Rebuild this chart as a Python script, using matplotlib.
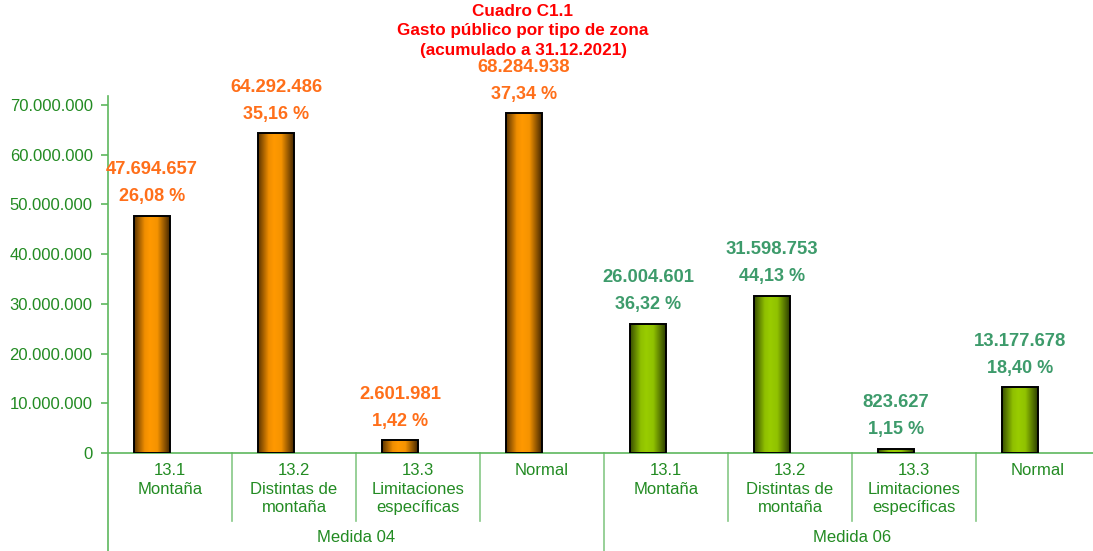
import matplotlib
matplotlib.use("Agg")
import matplotlib.pyplot as plt
import numpy as np
from matplotlib.colors import LinearSegmentedColormap

plt.rcParams['font.family'] = ['Liberation Sans', 'DejaVu Sans']

# ---- data ----
categories = ["13.1\nMontaña", "13.2\nDistintas de\nmontaña", "13.3\nLimitaciones\nespecíficas", "Normal",
              "13.1\nMontaña", "13.2\nDistintas de\nmontaña", "13.3\nLimitaciones\nespecíficas", "Normal"]
groups = ["Medida 04", "Medida 06"]
medida04_values = [47694657, 64292486, 2601981, 68284938]
medida04_pct = ["26,08 %", "35,16 %", "1,42 %", "37,34 %"]
medida06_values = [26004601, 31598753, 823627, 13177678]
medida06_pct = ["36,32 %", "44,13 %", "1,15 %", "18,40 %"]
yticks = [0, 10000000, 20000000, 30000000, 40000000, 50000000, 60000000, 70000000]
title = "Cuadro C1.1\nGasto público por tipo de zona\n(acumulado a 31.12.2021)"

# ---- layout ----
W, H = 1093, 551
fig = plt.figure(figsize=(W / 100, H / 100), dpi=100)
ax_left, ax_right, ax_top, ax_bottom = 108, 1100, 96, 453
ax = fig.add_axes([ax_left / W, (H - ax_bottom) / H, (ax_right - ax_left) / W, (ax_bottom - ax_top) / H])
axh = ax_bottom - ax_top

axis_green = '#5DB85D'
text_green = '#228B22'
sep_green = '#86C886'

def fmt(v):
    return f"{v:,}".replace(",", ".")

cmap_orange = LinearSegmentedColormap.from_list('o', [(0, '#5A3300'), (0.3, '#F08E00'), (0.45, '#FF9900'),
                                                      (0.65, '#F59300'), (1.0, '#452700')])
cmap_green = LinearSegmentedColormap.from_list('g', [(0, '#374C00'), (0.3, '#8FC000'), (0.45, '#99CC00'),
                                                     (0.65, '#90C200'), (1.0, '#2C3E00')])
grad = np.linspace(0, 1, 256).reshape(1, -1)

bw = 0.29
series = [(medida04_values, medida04_pct, cmap_orange, '#FF6F1A', 0),
          (medida06_values, medida06_pct, cmap_green, '#3D9B6B', 4)]
for vals, pcts, cmap, lc, off in series:
    xs = np.arange(len(vals)) + off + 0.5 - bw / 2
    bars = ax.bar(xs, vals, width=bw, facecolor='none', edgecolor='black', linewidth=1.4, zorder=3)
    for b, v, p in zip(bars, vals, pcts):
        x0, w, h = b.get_x(), b.get_width(), b.get_height()
        im = ax.imshow(grad, cmap=cmap, aspect='auto', extent=[x0, x0 + w, 0, h], zorder=2)
        im.set_clip_path(b)
        cx = x0 + w / 2
        ax.annotate(p, (cx, h), xytext=(0, 19 * 0.72), textcoords='offset points',
                    ha='center', va='center', fontsize=13, fontweight='bold', color=lc, zorder=4)
        ax.annotate(fmt(v), (cx, h), xytext=(0, 46 * 0.72), textcoords='offset points',
                    ha='center', va='center', fontsize=13.3, fontweight='bold', color=lc, zorder=4)
ax.set_xlim(0, 8)
ax.set_ylim(0, 71.8e6)

# axes styling
for s in ['top', 'right']:
    ax.spines[s].set_visible(False)
ax.spines['left'].set_color(axis_green)
ax.spines['bottom'].set_color(axis_green)
ax.spines['left'].set_linewidth(1.2)
ax.spines['bottom'].set_linewidth(1.2)
ax.set_yticks(yticks)
ax.set_yticklabels([fmt(t) for t in yticks], fontsize=12, color=text_green)
ax.tick_params(axis='y', colors=axis_green, labelcolor=text_green, length=5, width=1.2, pad=6)
ax.set_xticks([])

# category labels and separators
trans = ax.get_xaxis_transform()
for i, c in enumerate(categories):
    ax.text(i + 0.5, -10 / axh, c, transform=trans, ha='center', va='top', fontsize=12,
            color=text_green, linespacing=1.3)
for i in range(1, 8):
    ybot = -(551 - 453) / axh if i == 4 else -(521 - 453) / axh
    ax.plot([i, i], [0, ybot], transform=trans, color=sep_green, lw=1.2, clip_on=False)
ax.plot([0, 0], [0, -(551 - 453) / axh], transform=trans, color=axis_green, lw=1.2, clip_on=False)
for g, gname in enumerate(groups):
    ax.text(g * 4 + 2, -(538 - 453) / axh, gname, transform=trans, ha='center', va='center',
            fontsize=12, color=text_green)

fig.text(523 / W, 1 - 31 / H, title, ha='center', va='center', fontsize=12.3, fontweight='bold',
         color='#FF0000', linespacing=1.35)

fig.savefig('out.png', dpi=100)
